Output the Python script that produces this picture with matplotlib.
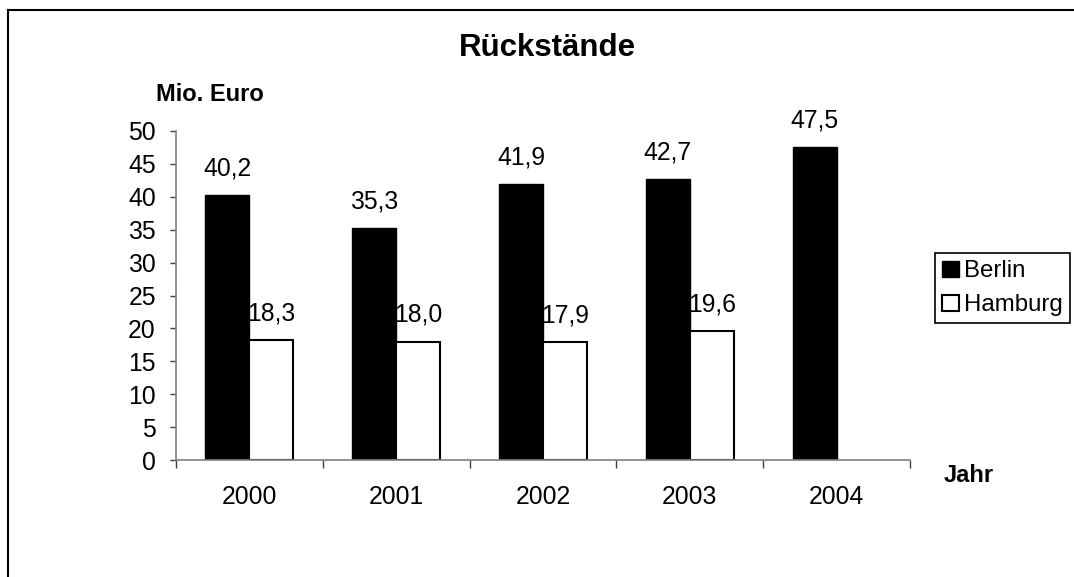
import matplotlib
matplotlib.use("Agg")
import matplotlib.pyplot as plt
from matplotlib.lines import Line2D
from matplotlib.patches import Patch
import numpy as np

plt.rcParams['font.family'] = ['Liberation Sans', 'DejaVu Sans']

years = ["2000", "2001", "2002", "2003", "2004"]
berlin = [40.2, 35.3, 41.9, 42.7, 47.5]
hamburg = [18.3, 18.0, 17.9, 19.6, None]
yticks = [0, 5, 10, 15, 20, 25, 30, 35, 40, 45, 50]

FS = 17.8

def fmt(v):
    return f"{v:.1f}".replace(".", ",")

fig = plt.figure(figsize=(10.74, 5.77), dpi=100)
ax = fig.add_axes([176/1074, 1-460/577, (910-176)/1074, (460-131)/577])

x = np.arange(len(years))
w = 0.30
ax.bar(x - w/2, berlin, width=w, color="black", edgecolor="black", linewidth=1)
hx = [xi + w/2 for xi, v in zip(x, hamburg) if v is not None]
hv = [v for v in hamburg if v is not None]
ax.bar(hx, hv, width=w, color="white", edgecolor="black", linewidth=1.5)

for xi, v in zip(x, berlin):
    ax.annotate(fmt(v), (xi - w/2, v), xytext=(0, 10.5), textcoords="offset points",
                ha="center", va="bottom", fontsize=FS)
for xi, v in zip(hx, hv):
    ax.annotate(fmt(v), (xi, v), xytext=(0, 10.5), textcoords="offset points",
                ha="center", va="bottom", fontsize=FS)

ax.set_xlim(-0.5, len(years) - 0.5)
ax.set_ylim(0, 50)
ax.set_yticks(yticks)
ax.set_yticklabels([str(t) for t in yticks], fontsize=FS)
ax.tick_params(axis="y", direction="out", length=4.5, width=1, pad=10, colors="#404040", labelcolor="black")

ax.set_xticks(np.arange(-0.5, len(years)), minor=False)
ax.set_xticklabels([""] * (len(years) + 1))
ax.set_xticks(x, minor=True)
ax.set_xticklabels(years, minor=True, fontsize=FS)
ax.tick_params(axis="x", which="major", direction="out", length=6, width=1, colors="#404040")
ax.tick_params(axis="x", which="minor", length=0, pad=18, labelcolor="black")

for s in ["top", "right"]:
    ax.spines[s].set_visible(False)
for s in ["left", "bottom"]:
    ax.spines[s].set_color("#808080")
    ax.spines[s].set_linewidth(1.2)

fig.text(547/1074, 1-48/577, "Rückstände", ha="center", va="center", fontsize=22.5, fontweight="bold")
fig.text(210/1074, 1-95/577, "Mio. Euro", ha="center", va="center", fontsize=17, fontweight="bold")
fig.text(969/1074, 1-476/577, "Jahr", ha="center", va="center", fontsize=17, fontweight="bold")

handles = [Patch(facecolor="black", edgecolor="black", label="Berlin"),
           Patch(facecolor="white", edgecolor="black", linewidth=1.5, label="Hamburg")]
leg = fig.legend(handles=handles, loc="upper left", bbox_to_anchor=(935/1074, 1-253/577),
                 fontsize=17.3, frameon=True, fancybox=False, framealpha=1,
                 handlelength=0.7, handleheight=0.65, handletextpad=0.2, borderpad=0.3,
                 labelspacing=0.5, borderaxespad=0)
leg.get_frame().set_edgecolor("black")
leg.get_frame().set_linewidth(1.2)

fig.add_artist(Line2D([8/1074, 1.0], [1-10/577, 1-10/577], transform=fig.transFigure, color="black", linewidth=1.5))
fig.add_artist(Line2D([8/1074, 8/1074], [0, 1-10/577], transform=fig.transFigure, color="black", linewidth=1.5))

fig.savefig("out.png", dpi=100)
